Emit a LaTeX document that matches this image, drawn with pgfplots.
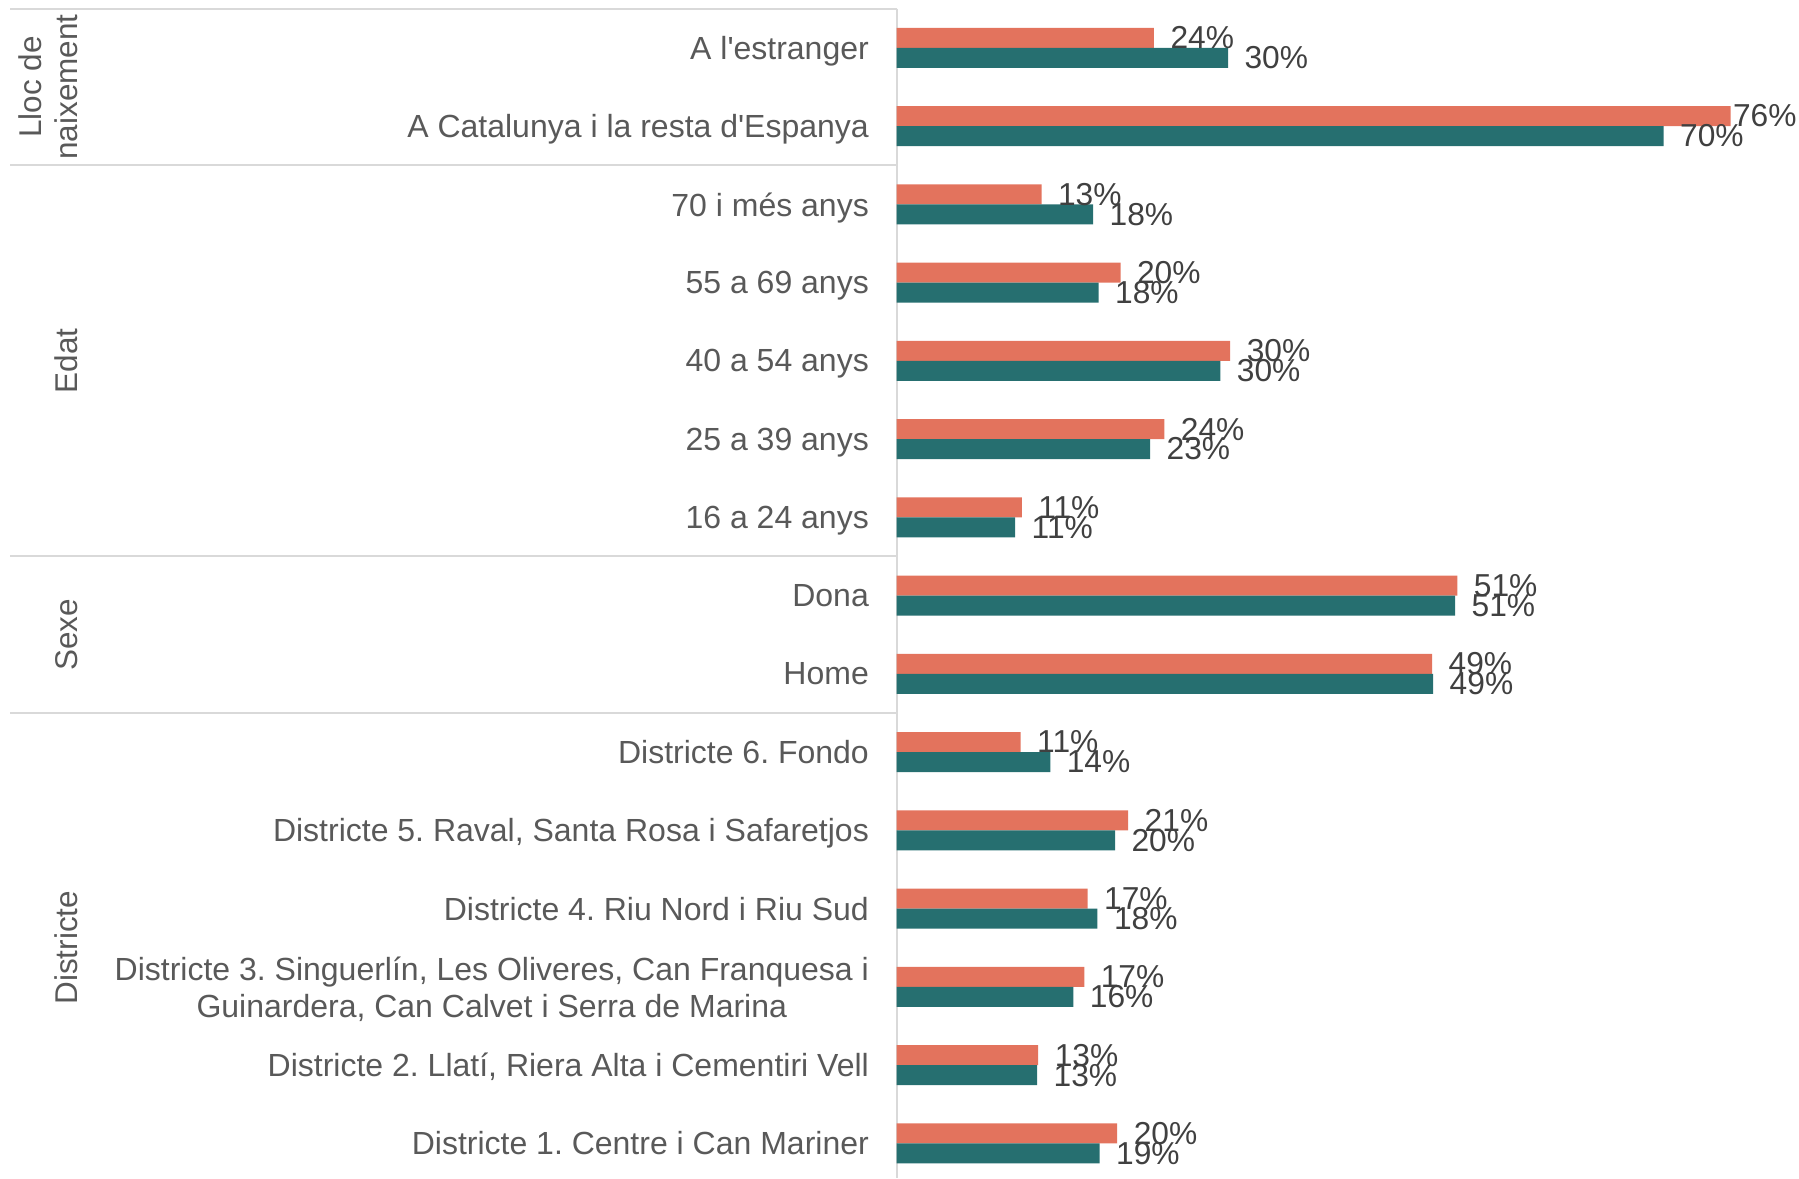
\documentclass[border=0pt]{standalone}
\usepackage{fontspec}
\setmainfont{Liberation Sans}[Ligatures=TeXOff]
\usepackage{pgfplots}
\pgfplotsset{compat=1.18}
\usepackage{pgfplotstable}
\frenchspacing
\definecolor{cOr}{RGB}{227,115,93}
\definecolor{cTe}{RGB}{38,111,112}
\definecolor{labgray}{RGB}{89,89,89}
\definecolor{valgray}{RGB}{64,64,64}
\definecolor{sepgray}{RGB}{217,217,217}

\pgfplotstableread{
y v lab dx
14 23.45 24 6
13 76.0 76 0.75
12 13.2 13 6
11 20.4 20 6
10 30.4 30 6
9 24.4 24 6
8 11.4 11 6
7 51.1 51 6
6 48.8 49 6
5 11.3 11 6
4 21.1 21 6
3 17.4 17 6
2 17.1 17 6
1 12.9 13 6
0 20.1 20 6
}\orangetab

\pgfplotstableread{
y v lab dx
14 30.2 30 6
13 69.9 70 6
12 17.9 18 6
11 18.4 18 6
10 29.5 30 6
9 23.1 23 6
8 10.8 11 6
7 50.9 51 6
6 48.9 49 6
5 14.0 14 6
4 19.9 20 6
3 18.3 18 6
2 16.1 16 6
1 12.8 13 6
0 18.5 19 6
}\tealtab

\begin{document}
\begin{tikzpicture}
\useasboundingbox (0,0) rectangle (674.625pt,441.75pt);
\begin{axis}[
  at={(336.26pt,0pt)}, anchor=south west,
  scale only axis, width=338.4pt, height=438.5pt,
  xmin=0, xmax=82.25, ymin=-0.443, ymax=14.5,
  enlargelimits=false, clip=false,
  xbar, bar width=7.5pt,
  axis line style={draw=none},
  xtick=\empty,
  ytick={0,...,14},
  yticklabels={
    {Districte 1. Centre i Can Mariner},
    {Districte 2. Llatí, Riera Alta i Cementiri Vell},
    {Districte 3. Singuerlín, Les Oliveres, Can Franquesa i\\Guinardera, Can Calvet i Serra de Marina},
    {Districte 4. Riu Nord i Riu Sud},
    {Districte 5. Raval, Santa Rosa i Safaretjos},
    {Districte 6. Fondo},
    {Home},
    {Dona},
    {16 a 24 anys},
    {25 a 39 anys},
    {40 a 54 anys},
    {55 a 69 anys},
    {70 i més anys},
    {A Catalunya i la resta d'Espanya},
    {A l'estranger}},
  major tick length=0pt,
  yticklabel style={anchor=east, align=center, inner sep=0pt, text depth=0pt, xshift=-10.25pt,
    font=\fontsize{12}{13.8}\selectfont, text=labgray},
  point meta=explicit symbolic,
  nodes near coords={\pgfplotspointmeta\%},
  visualization depends on={\thisrow{dx} \as \dx},
  every node near coord/.append style={anchor=west, inner sep=0pt, xshift=\dx pt,
    font=\fontsize{11.9}{13.8}\selectfont, text=valgray},
]
\draw[sepgray, line width=0.75pt] (axis cs:-80.8,14.5) -- (axis cs:0,14.5);
\draw[sepgray, line width=0.75pt] (axis cs:-80.8,12.5) -- (axis cs:0,12.5);
\draw[sepgray, line width=0.75pt] (axis cs:-80.8,7.5) -- (axis cs:0,7.5);
\draw[sepgray, line width=0.75pt] (axis cs:-80.8,5.5) -- (axis cs:0,5.5);
\draw[sepgray, line width=0.75pt] (axis cs:0,14.5) -- (axis cs:0,-0.443);

\addplot[fill=cOr, draw=none, bar shift=3.75pt] table[x=v, y=y, meta=lab] {\orangetab};
\addplot[fill=cTe, draw=none, bar shift=-3.75pt] table[x=v, y=y, meta=lab] {\tealtab};

\begin{scope}[every node/.style={rotate=90, anchor=south, inner sep=0pt, align=center,
    font=\fontsize{11.8}{13.4}\selectfont, text=labgray}]
\node at (axis cs:-74.63,13.5) {Lloc de\\naixement};
\node at (axis cs:-74.63,10) {Edat};
\node at (axis cs:-74.63,6.5) {Sexe};
\node at (axis cs:-74.63,2.5) {Districte};
\end{scope}
\end{axis}
\end{tikzpicture}
\end{document}
